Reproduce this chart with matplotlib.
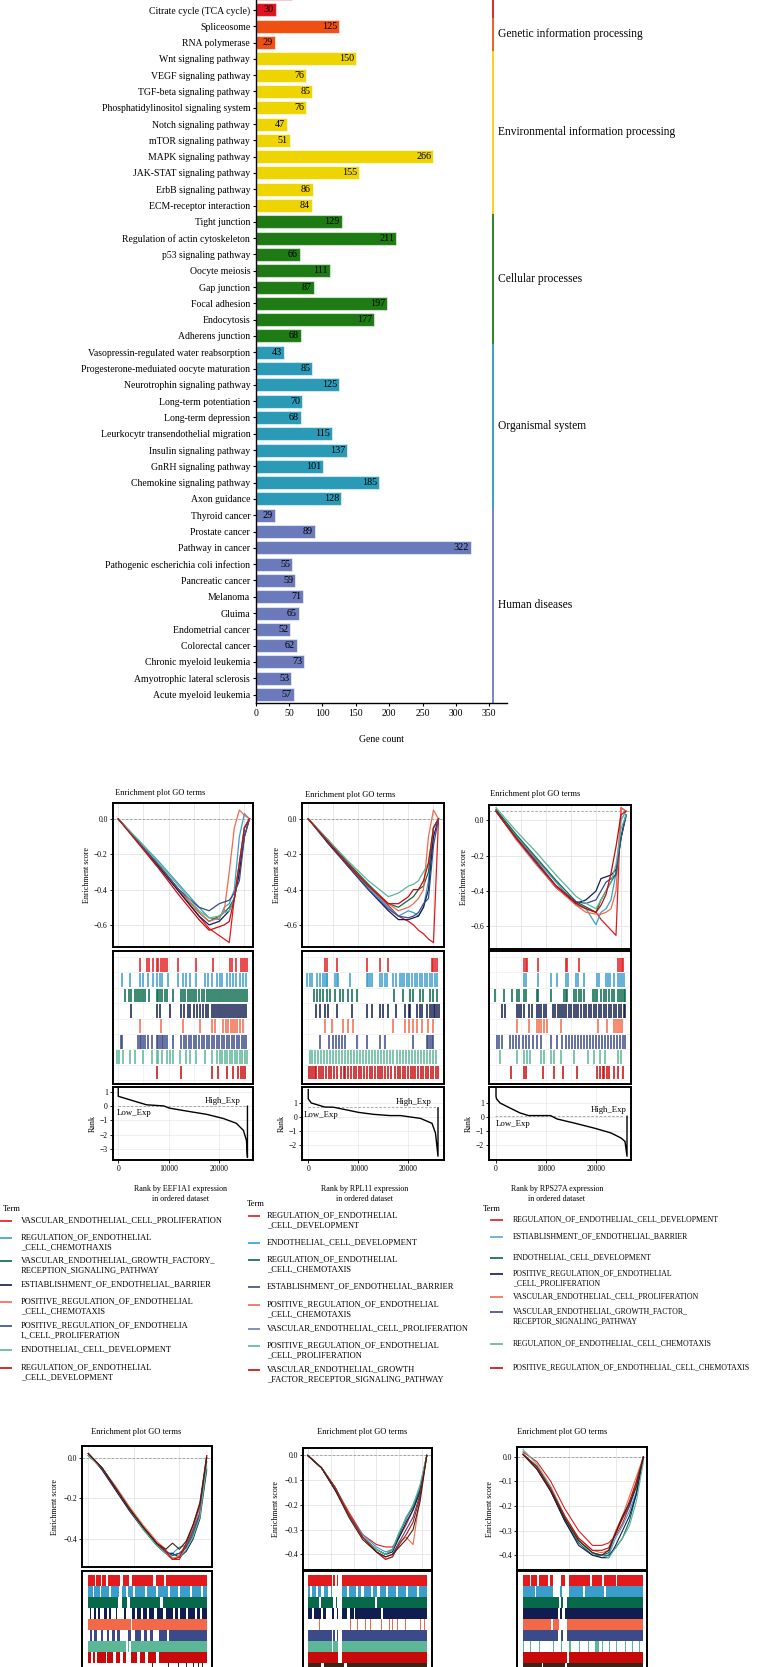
import numpy as np
import matplotlib
matplotlib.use("Agg")
import matplotlib.pyplot as plt

plt.rcParams["font.family"] = ["Liberation Serif", "DejaVu Serif"]
plt.rcParams["axes.unicode_minus"] = True

W, H = 762, 1667

# ---------------- KEGG bar chart data ----------------
pathways = [
    "", "Citrate cycle (TCA cycle)", "Spliceosome", "RNA polymerase",
    "Wnt signaling pathway", "VEGF signaling pathway", "TGF-beta signaling pathway",
    "Phosphatidylinositol signaling system", "Notch signaling pathway",
    "mTOR signaling pathway", "MAPK signaling pathway", "JAK-STAT signaling pathway",
    "ErbB signaling pathway", "ECM-receptor interaction",
    "Tight junction", "Regulation of actin cytoskeleton", "p53 signaling pathway",
    "Oocyte meiosis", "Gap junction", "Focal adhesion", "Endocytosis",
    "Adherens junction",
    "Vasopressin-regulated water reabsorption",
    "Progesterone-meduiated oocyte maturation", "Neurotrophin signaling pathway",
    "Long-term potentiation", "Long-term depression",
    "Leurkocytr transendothelial migration", "Insulin signaling pathway",
    "GnRH signaling pathway", "Chemokine signaling pathway", "Axon guidance",
    "Thyroid cancer", "Prostate cancer", "Pathway in cancer",
    "Pathogenic escherichia coli infection", "Pancreatic cancer", "Melanoma",
    "Gluima", "Endometrial cancer", "Colorectal cancer",
    "Chronic myeloid leukemia", "Amyotrophic lateral sclerosis",
    "Acute myeloid leukemia",
]
gene_counts = [54, 30, 125, 29,
               150, 76, 85, 76, 47, 51, 266, 155, 86, 84,
               129, 211, 66, 111, 87, 197, 177, 68,
               43, 85, 125, 70, 68, 115, 137, 101, 185, 128,
               29, 89, 322, 55, 59, 71, 65, 52, 62, 73, 53, 57]
groups = ["Metabolism", "Genetic information processing",
          "Environmental information processing", "Cellular processes",
          "Organismal system", "Human diseases"]
group_sizes = [2, 2, 10, 8, 10, 12]
group_colors = ["#e0141e", "#f04f12", "#eed400", "#1e7b14", "#2a9ab6", "#6a7abb"]

# ---------------- GSEA colours ----------------
C_RED, C_BLUE, C_GREEN, C_NAVY = "#e31a1c", "#3a9dcc", "#07684a", "#111c50"
C_SALMON, C_SLATE, C_MINT, C_RED2 = "#f2694a", "#3b4a88", "#5bb796", "#c80a0a"
C_BROWN = "#3a2516"
row_colors = [C_RED, C_BLUE, C_GREEN, C_NAVY, C_SALMON, C_SLATE, C_MINT, C_RED2]
row_colors9 = row_colors + [C_BROWN]

# ---------------- middle GSEA panels (EEF1A1, RPL11, RPS27A) ----------------
es_grid = [0, 4000, 8000, 12000, 16000, 18000, 20000, 21000, 22000, 23000, 24000, 25000, 26000]
eef1a1_es = [
    [0, -0.13, -0.27, -0.41, -0.55, -0.62, -0.66, -0.68, -0.70, -0.45, -0.25, -0.05, 0.0],
    [0, -0.12, -0.24, -0.37, -0.50, -0.56, -0.57, -0.50, -0.48, -0.40, -0.10, 0.03, 0.0],
    [0, -0.13, -0.26, -0.40, -0.53, -0.58, -0.55, -0.53, -0.50, -0.45, -0.30, -0.05, 0.0],
    [0, -0.13, -0.27, -0.41, -0.55, -0.60, -0.58, -0.55, -0.52, -0.45, -0.30, -0.10, 0.0],
    [0, -0.13, -0.26, -0.40, -0.53, -0.58, -0.56, -0.52, -0.30, -0.05, 0.05, 0.02, 0.0],
    [0, -0.13, -0.26, -0.40, -0.50, -0.52, -0.48, -0.47, -0.46, -0.42, -0.35, -0.10, 0.0],
    [0, -0.12, -0.25, -0.38, -0.52, -0.56, -0.55, -0.53, -0.52, -0.45, -0.25, -0.05, 0.0],
    [0, -0.14, -0.28, -0.43, -0.57, -0.63, -0.61, -0.60, -0.58, -0.45, -0.25, -0.05, 0.0],
]
rpl11_es = [
    [0, -0.13, -0.26, -0.38, -0.49, -0.55, -0.58, -0.60, -0.63, -0.65, -0.68, -0.70, 0.0],
    [0, -0.13, -0.26, -0.39, -0.50, -0.55, -0.52, -0.53, -0.55, -0.50, -0.35, -0.05, 0.0],
    [0, -0.12, -0.25, -0.37, -0.48, -0.50, -0.46, -0.44, -0.40, -0.38, -0.30, -0.05, 0.0],
    [0, -0.14, -0.27, -0.40, -0.52, -0.57, -0.57, -0.56, -0.55, -0.50, -0.40, -0.10, 0.0],
    [0, -0.13, -0.26, -0.38, -0.48, -0.52, -0.50, -0.48, -0.45, -0.40, -0.10, 0.05, 0.0],
    [0, -0.13, -0.27, -0.40, -0.51, -0.55, -0.56, -0.55, -0.53, -0.48, -0.45, -0.15, 0.0],
    [0, -0.12, -0.24, -0.35, -0.44, -0.42, -0.38, -0.37, -0.35, -0.30, -0.25, -0.05, 0.0],
    [0, -0.13, -0.26, -0.38, -0.48, -0.48, -0.44, -0.40, -0.40, -0.35, -0.25, -0.05, 0.0],
]
rps27a_es = [
    [0.05, -0.10, -0.24, -0.38, -0.47, -0.50, -0.52, -0.56, -0.59, -0.62, -0.65, 0.07, 0.05],
    [0.05, -0.09, -0.22, -0.35, -0.48, -0.50, -0.59, -0.52, -0.50, -0.45, -0.30, 0.00, 0.05],
    [0.06, -0.08, -0.21, -0.34, -0.46, -0.49, -0.52, -0.45, -0.40, -0.35, -0.30, -0.10, 0.03],
    [0.05, -0.10, -0.24, -0.38, -0.47, -0.45, -0.40, -0.33, -0.32, -0.31, -0.28, -0.10, 0.03],
    [0.05, -0.11, -0.25, -0.38, -0.48, -0.52, -0.53, -0.53, -0.52, -0.50, -0.40, 0.07, 0.05],
    [0.05, -0.10, -0.24, -0.37, -0.46, -0.47, -0.45, -0.40, -0.35, -0.33, -0.31, -0.10, 0.02],
    [0.07, -0.06, -0.18, -0.31, -0.43, -0.47, -0.50, -0.45, -0.40, -0.35, -0.25, -0.05, 0.03],
    [0.05, -0.10, -0.23, -0.37, -0.47, -0.50, -0.52, -0.48, -0.42, -0.30, -0.15, 0.03, 0.05],
]

eef1a1_hits = [
    [4300, 5700, 6100, 6800, 7600, 7900, 8400, 8800, 9200, 9600, 11900, 15400, 18700,
     22100, 22600, 23400, 24400, 24800, 25200, 25500],
    [800, 2300, 4300, 5000, 5900, 6800, 7600, 8300, 8600, 9900, 11900, 12900, 13500,
     14200, 15500, 17200, 17800, 18500, 19500, 20100, 20500, 21500, 22100, 22800, 23400,
     24100, 24800, 25400],
    [1300, 2200, 2500, 3400, 3800, 4200, 4600, 5000, 5300, 6100, 7600, 7900, 8300, 8600,
     9200, 9600, 10900, 12500, 12900, 13300, 13800, 14200, 14600, 15000, 15500, 16000,
     16500, 17000, 17500, 18000, 18400, 18800, 19200, 19600, 20000, 20400, 20800, 21200,
     21600, 22000, 22400, 22800, 23200, 23600, 24000, 24400, 24800, 25200, 25600],
    [2600, 7600, 8300, 10200, 12500, 13000, 13800, 14200, 15000, 15600, 16200, 16800,
     17300, 17800, 18500, 19000, 19400, 19800, 20200, 20600, 21000, 21400, 21800, 22200,
     22600, 23000, 23400, 23800, 24200, 24600, 25000, 25400],
    [4300, 8400, 12900, 16200, 18500, 19100, 20800, 21300, 21800, 22300, 22700, 23100,
     23600, 24100, 24700],
    [500, 800, 4000, 4300, 4600, 5000, 5300, 5900, 6600, 7600, 7900, 8300, 8600, 8900,
     9200, 9700, 10900, 12500, 13000, 13500, 14000, 14500, 15000, 15500, 16000, 16500,
     17000, 17500, 18000, 18500, 19000, 19500, 20000, 20500, 21000, 21500, 22000, 22500,
     23000, 23500, 24000, 24500, 25000, 25400],
    [-300, 200, 1000, 2300, 3300, 5000, 6600, 7600, 7900, 8600, 9600, 10200, 10900,
     12200, 13500, 14200, 15500, 17200, 18500, 19500, 20100, 20600, 21100, 21600, 22100,
     22600, 23100, 23600, 24100, 24600, 25100, 25500],
    [7600, 12500, 18500, 19800, 21500, 22800, 23800, 24400, 24800, 25100],
]
rpl11_hits = [
    [3300, 3700, 5700, 11700, 14300, 16000, 24700, 25000, 25400, 25700],
    [-200, 300, 700, 1700, 2300, 3000, 3300, 3700, 3800, 5300, 5700, 6000, 8300, 11700,
     12000, 12300, 12700, 14300, 14700, 15300, 15700, 17000, 17600, 18400, 18800, 19200,
     19800, 20200, 20800, 21300, 21800, 22300, 22800, 23300, 23800, 24300, 24800, 25300,
     25700],
    [1100, 1700, 2300, 2900, 3700, 4300, 5300, 6300, 7000, 8000, 8700, 9700, 17200,
     19000, 20400, 21000, 22400, 23000, 24400, 25000, 25800],
    [1500, 2300, 3300, 4000, 5700, 8700, 11700, 12700, 14300, 15000, 16000, 17500, 19400,
     20100, 20400, 21700, 22400, 22700, 23700, 24400, 24700, 25100, 25400, 25700, 26100],
    [3300, 4700, 7000, 8000, 9000, 17000, 19400, 20100, 21000, 21700, 22700, 24000, 25000],
    [2300, 4200, 4900, 5500, 6200, 6700, 7300, 9700, 11700, 14300, 15300, 21000, 23700,
     24000, 24400, 24700, 25000],
    [300, 700, 1300, 1900, 2500, 3100, 3700, 4300, 4900, 5500, 6100, 6700, 7300, 7900,
     8500, 9100, 9700, 10300, 10900, 11500, 12100, 12700, 13300, 13900, 14500, 15100,
     15700, 16300, 17000, 17700, 18400, 19000, 19600, 20200, 20800, 21400, 22000, 22600,
     23200, 23800, 24400, 25000, 25600],
    [200, 500, 900, 1300, 1600, 2200, 2600, 3000, 3600, 4200, 4600, 5200, 5800, 6500,
     7100, 7400, 8000, 8600, 9100, 9500, 10100, 10600, 11200, 11800, 12300, 12700,
     13300, 13900, 14400, 14800, 15400, 16000, 16600, 17300, 17900, 18400, 18900, 19400,
     19900, 20500, 21000, 21400, 21900, 22500, 23000, 23500, 24000, 24500, 25000, 25500,
     25900],
]
rps27a_hits = [
    [5600, 5900, 6200, 8300, 13900, 14200, 16600, 24400, 24700, 25100, 25400],
    [5600, 6000, 8300, 10900, 12200, 13900, 14300, 15900, 16300, 17600, 20100, 20600,
     21900, 22400, 22800, 23600, 24400, 24800, 25200, 25600],
    [-300, 1600, 3200, 4200, 4500, 5600, 6000, 8100, 8300, 10900, 13600, 14000, 14200,
     15600, 16000, 16500, 16900, 17600, 19300, 19700, 20200, 20900, 21600, 22000, 22600,
     23200, 23600, 24300, 24700, 25100, 25500, 25800],
    [1100, 1800, 4200, 4600, 5000, 5500, 6500, 7200, 8200, 8600, 9000, 9500, 9900,
     11400, 11800, 12300, 12700, 13200, 13600, 14000, 14500, 15000, 15500, 16000, 16400,
     16900, 17600, 18000, 18500, 19000, 19500, 20000, 20500, 21000, 21500, 22000, 22500,
     23000, 23500, 24000, 24500, 25000, 25500, 25800],
    [4200, 6500, 8200, 8600, 9000, 9500, 10200, 12900, 20300, 22100, 23600, 24000, 24400,
     24800, 25100],
    [100, 600, 1200, 2800, 3400, 4000, 4600, 5300, 5900, 6500, 7400, 8200, 8900, 10900,
     12200, 13200, 13900, 14500, 15100, 15800, 16400, 16900, 17500, 18100, 18700, 19300,
     19900, 20500, 21100, 21700, 22300, 22900, 23500, 24100, 24700, 25300, 25800],
    [800, 4200, 5500, 6200, 6800, 8900, 9500, 10900, 11500, 12900, 15600, 18300, 19600,
     20800, 21700, 24300, 25000],
    [3000, 5600, 6000, 9300, 11500, 13400, 16200, 20100, 20800, 21300, 21600, 22100,
     22600, 23600, 24400, 25300],
]

eef1a1_rank_x = [0, 0, 2300, 5600, 9000, 10200, 14200, 17500, 20800, 23400, 24800, 25400, 25600, 25600]
eef1a1_rank_y = [1.3, 0.7, 0.45, 0.1, 0.02, -0.14, -0.38, -0.57, -0.86, -1.2, -1.7, -2.4, -3.6, 0.0]
rpl11_rank_x = [0, 0, 600, 3300, 5000, 8000, 10000, 13000, 16300, 18400, 22400, 24700, 25400, 25900, 25900]
rpl11_rank_y = [1.95, 1.3, 1.0, 0.71, 0.7, 0.48, 0.33, 0.19, 0.1, 0.1, -0.1, -0.45, -1.15, -2.8, 0.65]
rps27a_rank_x = [0, 0, 100, 800, 2800, 4800, 6500, 10900, 12200, 15600, 19600, 23000, 25000, 25800, 26200, 26200]
rps27a_rank_y = [2.07, 1.48, 1.3, 1.0, 0.64, 0.29, 0.1, 0.1, -0.14, -0.43, -0.79, -1.14, -1.5, -1.74, -2.8, 0.05]

genes = ["EEF1A1", "RPL11", "RPS27A"]

legend_terms = [
    ["VASCULAR_ENDOTHELIAL_CELL_PROLIFERATION",
     "REGULATION_OF_ENDOTHELIAL\n_CELL_CHEMOTHAXIS",
     "VASCULAR_ENDOTHELIAL_GROWTH_FACTORY_\nRECEPTION_SIGNALING_PATHWAY",
     "ESTIABLISHMENT_OF_ENDOTHELIAL_BARRIER",
     "POSITIVE_REGULATION_OF_ENDOTHELIAL\n_CELL_CHEMOTAXIS",
     "POSITIVE_REGULATION_OF_ENDOTHELIA\nL_CELL_PROLIFERATION",
     "ENDOTHELIAL_CELL_DEVELOPMENT",
     "REGULATION_OF_ENDOTHELIAL\n_CELL_DEVELOPMENT"],
    ["REGULATION_OF_ENDOTHELIAL\n_CELL_DEVELOPMENT",
     "ENDOTHELIAL_CELL_DEVELOPMENT",
     "REGULATION_OF_ENDOTHELIAL\n_CELL_CHEMOTAXIS",
     "ESTABLISHMENT_OF_ENDOTHELIAL_BARRIER",
     "POSITIVE_REGULATION_OF_ENDOTHELIAL\n_CELL_CHEMOTAXIS",
     "VASCULAR_ENDOTHELIAL_CELL_PROLIFERATION",
     "POSITIVE_REGULATION_OF_ENDOTHELIAL\n_CELL_PROLIFERATION",
     "VASCULAR_ENDOTHELIAL_GROWTH\n_FACTOR_RECEPTOR_SIGNALING_PATHWAY"],
    ["REGULATION_OF_ENDOTHELIAL_CELL_DEVELOPMENT",
     "ESTIABLISHMENT_OF_ENDOTHELIAL_BARRIER",
     "ENDOTHELIAL_CELL_DEVELOPMENT",
     "POSITIVE_REGULATION_OF_ENDOTHELIAL\n_CELL_PROLIFERATION",
     "VASCULAR_ENDOTHELIAL_CELL_PROLIFERATION",
     "VASCULAR_ENDOTHELIAL_GROWTH_FACTOR_\nRECEPTOR_SIGNALING_PATHWAY",
     "REGULATION_OF_ENDOTHELIAL_CELL_CHEMOTAXIS",
     "POSITIVE_REGULATION_OF_ENDOTHELIAL_CELL_CHEMOTAXIS"],
]

# ---------------- bottom GSEA panels ----------------
bot_grid = [0, 3000, 6000, 9000, 12000, 15000, 17000, 18500, 20000, 21500, 23000, 24500, 26000]
bot1_es = [
    [0.02, -0.05, -0.15, -0.25, -0.34, -0.42, -0.47, -0.50, -0.50, -0.43, -0.35, -0.24, 0.01],
    [0.01, -0.05, -0.15, -0.25, -0.35, -0.43, -0.47, -0.47, -0.44, -0.43, -0.37, -0.27, -0.05],
    [0.01, -0.05, -0.15, -0.25, -0.34, -0.42, -0.46, -0.48, -0.47, -0.44, -0.38, -0.28, -0.02],
    [0.02, -0.06, -0.16, -0.26, -0.35, -0.43, -0.47, -0.47, -0.49, -0.46, -0.40, -0.30, -0.06],
    [0.01, -0.05, -0.14, -0.24, -0.33, -0.41, -0.45, -0.50, -0.48, -0.42, -0.34, -0.24, 0.0],
    [0.02, -0.05, -0.15, -0.25, -0.34, -0.42, -0.46, -0.48, -0.47, -0.44, -0.36, -0.27, 0.0],
    [0.01, -0.05, -0.15, -0.25, -0.35, -0.43, -0.47, -0.49, -0.49, -0.45, -0.39, -0.29, -0.04],
    [0.02, -0.05, -0.15, -0.25, -0.34, -0.42, -0.46, -0.50, -0.49, -0.42, -0.33, -0.22, 0.01],
    [0.02, -0.05, -0.15, -0.25, -0.34, -0.42, -0.45, -0.42, -0.45, -0.41, -0.33, -0.23, 0.0],
]
bot2_es = [
    [0.0, -0.05, -0.13, -0.23, -0.32, -0.36, -0.37, -0.37, -0.33, -0.28, -0.22, -0.14, 0.0],
    [0.0, -0.05, -0.13, -0.24, -0.32, -0.37, -0.39, -0.38, -0.31, -0.26, -0.20, -0.13, 0.0],
    [0.0, -0.05, -0.13, -0.24, -0.33, -0.38, -0.40, -0.38, -0.32, -0.25, -0.21, -0.14, 0.0],
    [0.0, -0.05, -0.14, -0.24, -0.33, -0.38, -0.40, -0.39, -0.33, -0.27, -0.22, -0.15, 0.0],
    [0.0, -0.05, -0.13, -0.24, -0.33, -0.39, -0.42, -0.41, -0.35, -0.33, -0.36, -0.17, 0.0],
    [0.0, -0.05, -0.14, -0.24, -0.33, -0.39, -0.41, -0.40, -0.35, -0.30, -0.25, -0.16, 0.0],
    [0.0, -0.05, -0.13, -0.24, -0.33, -0.38, -0.40, -0.38, -0.31, -0.25, -0.20, -0.12, 0.0],
    [0.0, -0.05, -0.13, -0.24, -0.33, -0.39, -0.42, -0.41, -0.36, -0.32, -0.27, -0.17, 0.0],
    [0.0, -0.05, -0.14, -0.25, -0.34, -0.39, -0.41, -0.40, -0.37, -0.34, -0.30, -0.19, 0.0],
]
bot3_es = [
    [0.02, -0.02, -0.10, -0.21, -0.30, -0.36, -0.36, -0.35, -0.32, -0.27, -0.20, -0.10, 0.0],
    [0.01, -0.04, -0.13, -0.25, -0.34, -0.39, -0.41, -0.40, -0.33, -0.28, -0.22, -0.14, 0.0],
    [0.01, -0.04, -0.14, -0.26, -0.35, -0.40, -0.40, -0.40, -0.37, -0.33, -0.26, -0.15, 0.0],
    [0.01, -0.05, -0.14, -0.26, -0.36, -0.40, -0.41, -0.41, -0.36, -0.30, -0.24, -0.15, 0.0],
    [0.01, -0.04, -0.13, -0.24, -0.33, -0.38, -0.39, -0.38, -0.30, -0.24, -0.16, -0.08, 0.0],
    [0.01, -0.04, -0.13, -0.25, -0.34, -0.39, -0.40, -0.39, -0.31, -0.25, -0.20, -0.12, 0.0],
    [0.03, -0.03, -0.12, -0.24, -0.34, -0.39, -0.40, -0.41, -0.37, -0.33, -0.28, -0.18, -0.02],
    [0.01, -0.04, -0.13, -0.24, -0.33, -0.38, -0.38, -0.37, -0.31, -0.25, -0.18, -0.10, 0.0],
    [0.01, -0.05, -0.14, -0.25, -0.34, -0.39, -0.40, -0.38, -0.31, -0.24, -0.19, -0.12, 0.0],
]

# filled stretches (start, end) of the dense hit rows
bot1_spans = [
    [(0, 1500), (1800, 2700), (3000, 3900), (4300, 6900), (7700, 9000), (9500, 14300),
     (14900, 16600), (17100, 26000)],
    [(0, 1000), (1300, 2500), (2900, 4500), (5000, 6800), (7400, 8200), (8700, 9800),
     (10300, 12500), (12900, 14800), (15300, 17500), (18000, 19800), (20200, 22300),
     (22700, 24800), (25200, 26000)],
    [(0, 6500), (7400, 8500), (9200, 15800), (16500, 26000)],
    [(300, 700), (1300, 1800), (2200, 2600), (3500, 4000), (4600, 5000), (6000, 6300),
     (7900, 8300), (9500, 10200), (10800, 11600), (12000, 12900), (13400, 14500),
     (15000, 16500), (17000, 18600), (19000, 19700), (20100, 21500), (22000, 23400),
     (23900, 24600), (25000, 26000)],
    [(0, 9300), (9700, 26000)],
    [(300, 800), (1300, 2000), (2700, 3300), (4000, 4500), (5300, 5800), (6400, 7000),
     (8800, 9400), (10300, 11500), (12200, 12800), (13600, 14200), (15500, 17300),
     (17800, 26000)],
    [(0, 8200), (8700, 9000), (9400, 26000)],
    [(0, 600), (1000, 1500), (2000, 3800), (4200, 5500), (6000, 6900), (7600, 8200),
     (9300, 10800), (11300, 12500), (13200, 14900), (15500, 26000)],
    [(600, 700), (2500, 2600), (8000, 8100), (14000, 14100), (17500, 17700),
     (19800, 20000), (21500, 21700), (23000, 23200), (24000, 24200), (25000, 25200)],
]
bot2_spans = [
    [(0, 5200), (5500, 5900), (6300, 6600), (7400, 26000)],
    [(0, 500), (900, 1800), (2200, 3000), (3500, 4500), (5000, 5300), (7500, 8500),
     (9000, 10500), (11000, 11600), (12300, 13800), (14300, 15200), (15800, 17000),
     (17500, 19300), (19800, 21500), (22000, 23800), (24300, 26000)],
    [(0, 2500), (2800, 5500), (6200, 6500), (7400, 14800), (15200, 26000)],
    [(0, 900), (1300, 2800), (3400, 4000), (5200, 5700), (6300, 6700), (7500, 8600),
     (9200, 10000), (10400, 16000), (16400, 26000)],
    [(2500, 2650), (5200, 5350), (7400, 7550), (9200, 9350), (10800, 10950),
     (12500, 12650), (13700, 13850), (15300, 15450), (16000, 16150), (17800, 17950),
     (18500, 18650), (19000, 19150), (19500, 19650), (20500, 20650), (21300, 21450),
     (22500, 22650), (23600, 23750), (24500, 24650), (25400, 25600)],
    [(0, 5200), (5500, 6000), (6300, 6700), (7400, 26000)],
    [(0, 5200), (5500, 6700), (7400, 26000)],
    [(0, 6700), (7400, 26000)],
    [(0, 3000), (3500, 8000), (8500, 26000)],
]
bot3_spans = [
    [(0, 1500), (1800, 3000), (3400, 5500), (5800, 6500), (8300, 9000), (10000, 14500),
     (14900, 17000), (17400, 20000), (20300, 26000)],
    [(0, 2500), (2800, 6500), (8000, 8500), (10000, 13000), (13400, 17500),
     (17900, 26000)],
    [(0, 7800), (8200, 8600), (9500, 26000)],
    [(0, 7500), (8000, 8400), (9000, 26000)],
    [(0, 6000), (6400, 7800), (9600, 26000)],
    [(0, 7500), (8200, 8600), (9600, 26000)],
    [(0, 200), (1500, 1700), (3500, 3700), (6500, 6700), (8200, 8400), (10000, 10300),
     (12000, 12200), (14000, 14300), (15500, 16500), (17000, 17200), (18500, 18700),
     (20000, 20200), (22000, 22300), (23500, 23700), (25000, 25300)],
    [(0, 9500), (9900, 26000)],
    [(0, 4000), (4400, 9000), (9500, 26000)],
]


def rect(x0, y0, x1, y1):
    # pixel box (origin top-left) -> figure fraction
    return [x0 / W, 1 - y1 / H, (x1 - x0) / W, (y1 - y0) / H]


def frame(ax, lw=1.4):
    for s in ax.spines.values():
        s.set_linewidth(lw)
        s.set_color("black")


def style_es(ax, xlim, ylim, yticks, xgrid, dash_y):
    ax.set_xlim(*xlim)
    ax.set_ylim(*ylim)
    ax.set_yticks(yticks)
    ax.set_yticklabels([f"{v:.1f}".replace("-", "\u2212") for v in yticks], fontsize=5.5)
    ax.set_xticks(xgrid)
    ax.tick_params(axis="x", length=0, labelbottom=False)
    ax.tick_params(axis="y", length=2, width=0.6, pad=1.5)
    ax.grid(True, color="#e4e4e4", lw=0.6)
    ax.set_axisbelow(True)
    ax.axhline(dash_y, color="#9a9a9a", ls=(0, (3, 2)), lw=0.6, zorder=1)
    frame(ax)


fig = plt.figure(figsize=(W / 100, H / 100), dpi=100)

# ================= bar chart =================
ax = fig.add_axes(rect(255.7, -16.1, 506.6, 702.7))
ypos = np.arange(len(pathways))
bar_colors = []
for col, n in zip(group_colors, group_sizes):
    bar_colors += [col] * n
ax.barh(ypos, gene_counts, height=0.8, color=bar_colors,
        edgecolor=(1, 1, 1, 0.55), linewidth=0.8)
for k, c in zip(ypos, gene_counts):
    if pathways[k]:  # the first bar is cropped off by the top edge
        ax.text(c - 3, k, str(c), ha="right", va="center", fontsize=7.3, color="black")
ax.set_ylim(43.5, -0.6)
ax.set_xlim(0, 376)
ax.set_yticks(ypos)
ax.set_yticklabels(pathways, fontsize=7)
ax.set_xticks(range(0, 351, 50))
ax.tick_params(axis="x", labelsize=7, length=2.5, width=0.8, pad=2)
ax.tick_params(axis="y", length=2.5, width=0.8, pad=1.5)
for s in ("top", "right"):
    ax.spines[s].set_visible(False)
ax.spines["left"].set_linewidth(1.0)
ax.spines["bottom"].set_linewidth(1.0)
ax.set_xlabel("Gene count", fontsize=7, labelpad=12)
start = -0.6
for g, (name, n, col) in enumerate(zip(groups, group_sizes, group_colors)):
    end = ypos[sum(group_sizes[:g + 1]) - 1] + 0.5
    ax.vlines(355, start, end, color=col, lw=1.3, clip_on=False)
    if name != "Metabolism":  # its label sits above the cropped top edge
        ax.text(363, end - n / 2, name, fontsize=8.3, va="center", ha="left",
                clip_on=False)
    start = end

# ================= middle GSEA panels =================
mid_layout = [
    dict(x0=112.7, x1=253, es=(803, 947), xlim=(-1100, 26700), es_ylim=(-0.725, 0.09),
         rank_ylim=(-3.78, 1.35), rank_ticks=[1, 0, -1, -2, -3], dash=0.0, rank_dash=0.02,
         title_x=115, title_y=793, xl=180, high=(17200, 0.12), low=(-300, -0.2)),
    dict(x0=302, x1=444, es=(803, 947), xlim=(-1250, 27100), es_ylim=(-0.725, 0.09),
         rank_ylim=(-3.07, 2.14), rank_ticks=[1, 0, -1, -2], dash=0.0, rank_dash=0.7,
         title_x=305, title_y=795, xl=365, high=(17500, 0.8), low=(-1000, 0.45)),
    dict(x0=489, x1=631, es=(805, 949), xlim=(-1400, 27000), es_ylim=(-0.727, 0.085),
         rank_ylim=(-3.07, 2.14), rank_ticks=[1, 0, -1, -2], dash=0.05, rank_dash=0.07,
         title_x=490, title_y=794, xl=557, high=(18900, 0.2), low=(0, -0.2)),
]
mid_es = [eef1a1_es, rpl11_es, rps27a_es]
mid_hits = [eef1a1_hits, rpl11_hits, rps27a_hits]
mid_rank = [(eef1a1_rank_x, eef1a1_rank_y), (rpl11_rank_x, rpl11_rank_y),
            (rps27a_rank_x, rps27a_rank_y)]

for j, L in enumerate(mid_layout):
    # enrichment score
    ea = fig.add_axes(rect(L["x0"], L["es"][0], L["x1"], L["es"][1]))
    style_es(ea, L["xlim"], L["es_ylim"], [0.0, -0.2, -0.4, -0.6],
             [0, 5000, 10000, 15000, 20000, 25000], L["dash"])
    for curve, col in zip(mid_es[j], row_colors):
        ea.plot(es_grid, curve, color=col, lw=0.9)
    ea.set_ylabel("Enrichment score", fontsize=5.8, labelpad=2)
    fig.text(L["title_x"] / W, 1 - L["title_y"] / H, "Enrichment plot GO terms",
             fontsize=6, ha="left", va="center")

    # hit marks
    ha = fig.add_axes(rect(L["x0"], 951, L["x1"], 1084))
    for r, (hits, col) in enumerate(zip(mid_hits[j], row_colors)):
        ha.vlines(hits, r + 0.05, r + 0.95, color=col, lw=1.1)
    ha.set_xlim(*L["xlim"])
    ha.set_ylim(8.25, -0.39)
    ha.set_xticks([0, 5000, 10000, 15000, 20000, 25000])
    ha.set_yticks(range(9))
    ha.grid(True, color="#eeeeee", lw=0.5)
    ha.set_axisbelow(True)
    ha.tick_params(length=0, labelbottom=False, labelleft=False)
    frame(ha)

    # ranked list metric
    ra = fig.add_axes(rect(L["x0"], 1087, L["x1"], 1160))
    rx, ry = mid_rank[j]
    ra.axhline(L["rank_dash"], xmin=0.04, xmax=0.95, color="#9a9a9a",
               ls=(0, (3, 2)), lw=0.6)
    ra.plot(rx, ry, color="black", lw=1.0)
    ra.set_xlim(*L["xlim"])
    ra.set_ylim(*L["rank_ylim"])
    ra.set_yticks(L["rank_ticks"])
    ra.set_yticklabels([str(v).replace("-", "\u2212") for v in L["rank_ticks"]], fontsize=5.5)
    ra.set_xticks([0, 10000, 20000])
    ra.set_xticklabels(["0", "10000", "20000"], fontsize=5.5)
    ra.tick_params(length=2, width=0.6, pad=1.5)
    ra.grid(True, color="#e8e8e8", lw=0.5)
    ra.set_axisbelow(True)
    ra.set_ylabel("Rank", fontsize=5.8, labelpad=2)
    ra.text(L["high"][0], L["high"][1], "High_Exp", fontsize=6.3, ha="left", va="bottom")
    ra.text(L["low"][0], L["low"][1], "Low_Exp", fontsize=6.3, ha="left", va="top")
    frame(ra)
    fig.text(L["xl"] / W, 1 - 1194 / H,
             f"Rank by {genes[j]} expression\nin ordered dataset",
             fontsize=5.8, ha="center", va="center", linespacing=1.2)

# ================= legends =================
lay = fig.add_axes([0, 0, 1, 1])
lay.set_xlim(0, W)
lay.set_ylim(H, 0)
lay.axis("off")
legend_cols = [
    dict(term=(3, 1209), gx=(0, 12), tx=21, fs=6.0,
         ys=[1221, 1238, 1261, 1285, 1302, 1326, 1350, 1368],
         colors=row_colors),
    dict(term=(247, 1204), gx=(248, 260), tx=267, fs=6.0,
         ys=[1216, 1243, 1260, 1287, 1305, 1329, 1346, 1370],
         colors=[C_RED, C_BLUE, C_GREEN, C_SLATE, C_SALMON, "#6e7cb0", C_MINT, C_RED2]),
    dict(term=(483, 1209), gx=(490, 503), tx=513, fs=5.6,
         ys=[1220, 1237, 1258, 1274, 1297, 1312, 1344, 1368],
         colors=[C_RED, "#57a9d6", C_GREEN, C_NAVY, C_SALMON, C_SLATE, C_MINT, C_RED2]),
]
for j, LC in enumerate(legend_cols):
    lay.text(LC["term"][0], LC["term"][1], "Term", fontsize=6.2, ha="left", va="center")
    for txt, y, col in zip(legend_terms[j], LC["ys"], LC["colors"]):
        lay.plot(LC["gx"], [y, y], color=col, lw=1.2, solid_capstyle="butt")
        lay.text(LC["tx"], y - 4.4, txt, fontsize=LC["fs"], ha="left", va="top",
                 linespacing=1.3)

# ================= bottom GSEA panels =================
bot_layout = [
    dict(x0=82, x1=212, es=(1446, 1567), xlim=(-1380, 27160), ylim=(-0.537, 0.057),
         yticks=[0.0, -0.2, -0.4], title_x=91, xgrid=[0, 10000, 20000]),
    dict(x0=303, x1=432, es=(1448, 1570), xlim=(-1030, 27140), ylim=(-0.463, 0.03),
         yticks=[0.0, -0.1, -0.2, -0.3, -0.4], title_x=317,
         xgrid=[0, 5000, 10000, 15000, 20000, 25000]),
    dict(x0=517, x1=647, es=(1447, 1570), xlim=(-1300, 26780), ylim=(-0.46, 0.04),
         yticks=[0.0, -0.1, -0.2, -0.3, -0.4], title_x=517,
         xgrid=[0, 10000, 20000]),
]
bot_es = [bot1_es, bot2_es, bot3_es]
bot_spans = [bot1_spans, bot2_spans, bot3_spans]

for j, L in enumerate(bot_layout):
    ea = fig.add_axes(rect(L["x0"], L["es"][0], L["x1"], L["es"][1]))
    style_es(ea, L["xlim"], L["ylim"], L["yticks"], L["xgrid"], 0.0)
    for curve, col in zip(bot_es[j], row_colors9):
        ea.plot(bot_grid, curve, color=col, lw=0.8)
    ea.set_ylabel("Enrichment score", fontsize=5.8, labelpad=3)
    fig.text(L["title_x"] / W, 1 - 1432 / H, "Enrichment plot GO terms",
             fontsize=6, ha="left", va="center")

    ha = fig.add_axes(rect(L["x0"], 1571, L["x1"], 1690))
    for r, (spans, col) in enumerate(zip(bot_spans[j], row_colors9)):
        ha.broken_barh([(a, b - a) for a, b in spans], (r, 1), facecolors=col)
    ha.set_xlim(*L["xlim"])
    ha.set_ylim(10.45, -0.36)
    ha.tick_params(length=0, labelbottom=False, labelleft=False)
    frame(ha)

fig.savefig("out.png", dpi=100)
